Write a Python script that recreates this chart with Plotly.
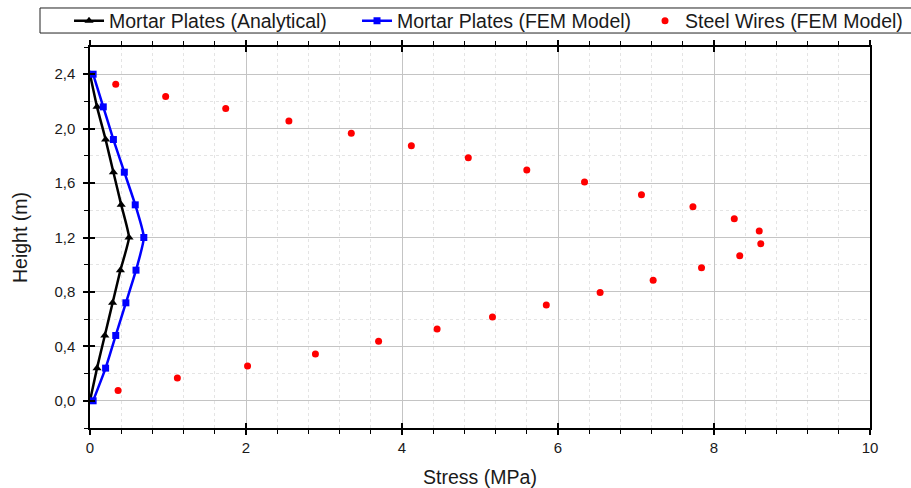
import plotly.graph_objects as go

# ---- data ----
heights = [0.0, 0.24, 0.48, 0.72, 0.96, 1.2, 1.44, 1.68, 1.92, 2.16, 2.4]
analytical_stress = [0.0, 0.09, 0.19, 0.29, 0.39, 0.50, 0.40, 0.30, 0.20, 0.09, 0.0]
fem_plate_stress = [0.04, 0.20, 0.33, 0.46, 0.59, 0.69, 0.58, 0.44, 0.30, 0.17, 0.04]

wire_heights = [0.076, 0.167, 0.255, 0.344, 0.437, 0.528, 0.616, 0.704, 0.795, 0.886,
                0.977, 1.065, 1.154, 1.247, 1.338, 1.426, 1.514, 1.607, 1.696, 1.787,
                1.875, 1.966, 2.057, 2.148, 2.236, 2.327]
wire_stress = [0.36, 1.12, 2.02, 2.89, 3.70, 4.45, 5.16, 5.85, 6.54, 7.22,
               7.84, 8.33, 8.60, 8.58, 8.26, 7.73, 7.07, 6.34, 5.60, 4.85,
               4.12, 3.35, 2.55, 1.74, 0.97, 0.33]

series_names = ["Mortar Plates (Analytical)", "Mortar Plates (FEM Model)", "Steel Wires (FEM Model)"]

FONT = "Liberation Sans, Arial, sans-serif"

fig = go.Figure()
fig.add_trace(go.Scatter(
    x=analytical_stress, y=heights, name=series_names[0], mode="lines+markers",
    line=dict(color="black", width=2.5, shape="spline", smoothing=0.4),
    marker=dict(symbol="triangle-up", size=8, color="black")))
fig.add_trace(go.Scatter(
    x=fem_plate_stress, y=heights, name=series_names[1], mode="lines+markers",
    line=dict(color="#0000ff", width=2.5, shape="spline", smoothing=0.5),
    marker=dict(symbol="square", size=7, color="#0000ff")))
fig.add_trace(go.Scatter(
    x=wire_stress, y=wire_heights, name=series_names[2], mode="markers",
    marker=dict(symbol="circle", size=7, color="#ff0000")))
# empty helper trace so the overlay axes (inward tick halves) are drawn
fig.add_trace(go.Scatter(x=[None], y=[None], xaxis="x2", yaxis="y2",
                         showlegend=False, hoverinfo="skip"))

grid_major = "#c4c4c4"
grid_minor = "#e4e4e4"

fig.update_layout(
    width=911, height=488,
    margin=dict(l=90, r=41, t=47, b=60, autoexpand=False),
    paper_bgcolor="white", plot_bgcolor="white",
    separators=", ",
    font=dict(family=FONT, size=15, color="#1a1a1a"),
    showlegend=True,
    legend=dict(
        orientation="h",
        x=-0.0269, xanchor="left", y=1.0682, yanchor="middle",
        font=dict(family=FONT, size=19.5, color="#1a1a1a"),
        borderwidth=0, bgcolor="rgba(0,0,0,0)",
        entrywidth=243, entrywidthmode="pixels", itemwidth=30,
    ),
    shapes=[dict(type="rect", xref="paper", yref="paper",
                 x0=-0.0641, x1=1.0564, y0=1.0367, y1=1.1024,
                 line=dict(color="#222222", width=1), fillcolor="rgba(0,0,0,0)", layer="below")],
    xaxis=dict(
        range=[0, 10], dtick=2, tick0=0, showgrid=True, gridcolor=grid_major, gridwidth=1,
        zeroline=False, showline=True, linecolor="black", linewidth=1.5, automargin=False,
        mirror="allticks", ticks="outside", ticklen=5, tickwidth=1.5, tickcolor="black",
        minor=dict(dtick=0.4, tick0=0, showgrid=True, gridcolor=grid_minor, griddash="dot",
                   ticks="outside", ticklen=4, tickwidth=1, tickcolor="black"),
        title=dict(text="Stress (MPa)", font=dict(family=FONT, size=19.5, color="#1a1a1a"), standoff=29),
        tickfont=dict(family=FONT, size=15),
    ),
    yaxis=dict(
        range=[-0.2, 2.6], dtick=0.4, tick0=0, tickformat=".1f", automargin=False,
        showgrid=True, gridcolor=grid_major, gridwidth=1,
        zeroline=False, showline=True, linecolor="black", linewidth=1.5, mirror=True,
        ticks="outside", ticklen=5, tickwidth=1.5, tickcolor="black", ticklabelstandoff=5,
        minor=dict(dtick=0.2, tick0=0, showgrid=True, gridcolor=grid_minor, griddash="dot",
                   ticks="outside", ticklen=4, tickwidth=1, tickcolor="black"),
        title=dict(text="Height (m)", font=dict(family=FONT, size=19.5, color="#1a1a1a"), standoff=22),
        tickfont=dict(family=FONT, size=15),
    ),
    xaxis2=dict(
        overlaying="x", matches="x", range=[0, 10], dtick=2, tick0=0, showgrid=False,
        showticklabels=False, zeroline=False, showline=False, mirror="allticks", automargin=False,
        ticks="inside", ticklen=5, tickwidth=1.5, tickcolor="black", side="bottom", anchor="y2",
    ),
    yaxis2=dict(
        overlaying="y", matches="y", range=[-0.2, 2.6], dtick=0.4, tick0=0, showgrid=False,
        showticklabels=False, zeroline=False, showline=False, automargin=False,
        ticks="inside", ticklen=5, tickwidth=1.5, tickcolor="black", side="left", anchor="x2",
    ),
)

fig.write_html("out.html")
